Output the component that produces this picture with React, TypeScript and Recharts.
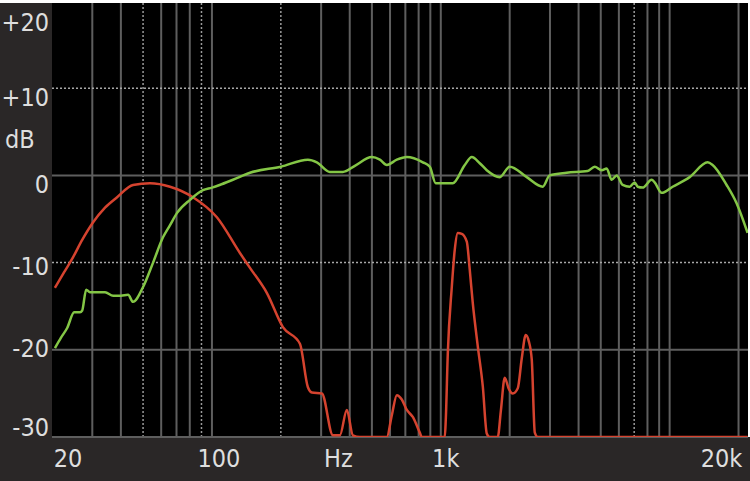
import React from 'react';
import { LineChart, Line, XAxis, YAxis, CartesianGrid, ReferenceLine, Label } from 'recharts';

// ---- data ----
const greenFreq = [20.6, 21.9, 23.3, 25.0, 26.5, 27.1, 28.2, 29.3, 32.4, 34.1, 37.0, 40.0, 43.0, 45.2, 50.0, 55.3, 61.1, 65.6, 70.4, 80.2, 91.3, 100, 108, 123.5, 146.6, 200, 262.6, 287.4, 327.5, 373.4, 421.2, 499.6, 541.6, 581, 642.5, 710.5, 834.5, 895.4, 950, 1128, 1273, 1366, 1480, 1588, 1810, 2001, 2374, 2789, 2992, 3550, 4385, 4705, 5049, 5308, 5580, 5869, 6234, 6689, 7034, 7251, 7624, 8345, 8600, 9228, 10306, 12231, 14655, 15408, 17741, 19615, 21906];
const greenDb = [-19.8, -18.6, -17.5, -15.7, -15.7, -15.5, -13.1, -13.4, -13.4, -13.4, -13.8, -13.8, -13.7, -14.5, -12.8, -10.0, -7.1, -5.7, -4.3, -2.8, -1.7, -1.4, -1.1, -0.5, 0.3, 1.0, 1.8, 1.5, 0.4, 0.4, 1.1, 2.1, 1.8, 1.2, 1.8, 2.1, 1.5, 1.0, -0.9, -0.9, 1.2, 2.1, 1.4, 0.6, -0.2, 1.0, -0.2, -1.3, 0, 0.3, 0.5, 1.0, 0.6, 0.8, -0.5, 0, -1.1, -1.3, -0.8, -1.3, -1.4, -0.5, -0.8, -2.0, -1.3, -0.2, 1.5, 1.2, -1.1, -3.2, -6.6];

const redFreq = [20.6, 22.6, 24.7, 27.1, 30.2, 34.1, 38.5, 45.2, 53.6, 65.6, 82.6, 105.1, 132.5, 146.6, 173.9, 204.2, 242.3, 262.6, 273.3, 302.2, 337.6, 362.2, 388.6, 412.8, 443, 581, 611, 642.5, 675.6, 710.5, 754.5, 809.6, 826, 1041, 1051.5, 1073, 1117, 1151, 1186, 1235, 1299, 1338, 1379, 1451, 1526, 1588, 1635, 1774, 1830, 1903, 1983, 2063, 2170, 2258, 2351, 2423, 2497, 2575, 2653, 21906];
const redDb = [-12.9, -11.1, -9.4, -7.4, -5.4, -3.7, -2.5, -1.1, -0.9, -1.3, -2.5, -4.8, -8.9, -10.6, -13.5, -17.4, -19.3, -24.3, -24.9, -25.0, -29.8, -29.8, -26.9, -29.8, -30, -30, -27.5, -25.2, -25.7, -26.9, -27.7, -29.5, -30, -30, -28, -20.4, -12.8, -8.5, -6.6, -6.7, -7.6, -10.8, -14.6, -19.6, -24.2, -29.6, -30, -30, -27, -23.2, -24.5, -25.0, -24.4, -21, -18.3, -19, -21.1, -29.5, -30, -30];

const gridFreqs = [30, 40, 50, 60, 70, 80, 90, 100, 200, 300, 400, 500, 600, 700, 800, 900, 1000, 2000, 3000, 4000, 5000, 6000, 7000, 8000, 9000, 10000, 20000];
const dottedFreqs = [50, 90, 200, 7000];
const dbTicks = [-30, -20, -10, 0, 10, 20];
const dbTickLabels = ['-30', '-20', '-10', '0', '+10', '+20'];
const dottedDb = [-10, 10];
const freqTicks = [20, 100, 350, 1000, 20000];
const freqTickLabels = ['20', '100', 'Hz', '1k', '20k'];
const unitLabel = 'dB';

const greenData = greenFreq.map((f, i) => ({ f, db: greenDb[i] }));
const redData = redFreq.map((f, i) => ({ f, db: redDb[i] }));

const FONT = "'DejaVu Sans Condensed', 'DejaVu Sans', sans-serif";
const TEXT = '#dedede';
const FS = 25;

const yShift: Record<string, number> = { '20': 30, '10': 18, '0': 18, '-10': 12, '-20': 7, '-30': -1 };
const xShift: Record<string, number> = { '20': 16, '100': 7, '350': 2, '1000': 5, '20000': -17 };

const YTick = (props: any) => {
  const { x, y, payload } = props;
  const i = dbTicks.indexOf(payload.value);
  return (
    <text x={x} y={y + (yShift[String(payload.value)] ?? 0)} textAnchor="end" fill={TEXT} fontSize={FS} fontFamily={FONT}>
      {dbTickLabels[i]}
    </text>
  );
};

const XTick = (props: any) => {
  const { x, y, payload } = props;
  const i = freqTicks.indexOf(payload.value);
  return (
    <text x={x + (xShift[String(payload.value)] ?? 0)} y={y + 30} textAnchor="middle" fill={TEXT} fontSize={FS} fontFamily={FONT}>
      {freqTickLabels[i]}
    </text>
  );
};

export default function App() {
  return (
    <div style={{ position: 'absolute', left: 0, top: 0, width: 750, height: 481, background: '#2a2727' }}>
      <LineChart width={750} height={481} margin={{ top: 1, right: 2, bottom: 0, left: 0 }}>
        <CartesianGrid horizontal={false} vertical={false} fill="#000" stroke="none" />
        <XAxis
          dataKey="f"
          type="number"
          scale="log"
          domain={[20, 22000]}
          allowDataOverflow
          ticks={freqTicks}
          tick={<XTick />}
          tickLine={false}
          axisLine={false}
          tickSize={0}
          tickMargin={0}
          height={44}
          interval={0}
        />
        <YAxis
          type="number"
          domain={[-30, 20]}
          allowDataOverflow
          ticks={dbTicks}
          tick={<YTick />}
          tickLine={false}
          axisLine={false}
          tickSize={0}
          tickMargin={3}
          width={52}
          interval={0}
        >
          <Label
            content={() => (
              <text x={5} y={148} fill={TEXT} fontSize={FS} fontFamily={FONT}>
                {unitLabel}
              </text>
            )}
          />
        </YAxis>
        {gridFreqs.map((f) =>
          dottedFreqs.includes(f) ? (
            <ReferenceLine key={'v' + f} x={f} stroke="#9a9a9a" strokeWidth={1.5} strokeDasharray="2 2" />
          ) : (
            <ReferenceLine key={'v' + f} x={f} stroke="#5e5e5e" strokeWidth={2} />
          )
        )}
        {dbTicks.map((d) =>
          dottedDb.includes(d) ? (
            <ReferenceLine key={'h' + d} y={d} stroke="#a8a8a8" strokeWidth={1.5} strokeDasharray="2 2" />
          ) : (
            <ReferenceLine key={'h' + d} y={d} stroke="#5e5e5e" strokeWidth={2} />
          )
        )}
        <Line data={redData} dataKey="db" type="monotone" stroke="#d5432f" strokeWidth={2.5} dot={false} isAnimationActive={false} />
        <Line data={greenData} dataKey="db" type="monotone" stroke="#84c646" strokeWidth={2.5} dot={false} isAnimationActive={false} />
      </LineChart>
      <div style={{ position: 'absolute', left: 0, top: 0, width: 750, height: 3, background: '#fff' }} />
      <div style={{ position: 'absolute', left: 748, top: 0, width: 2, height: 437, background: '#fff' }} />
    </div>
  );
}
